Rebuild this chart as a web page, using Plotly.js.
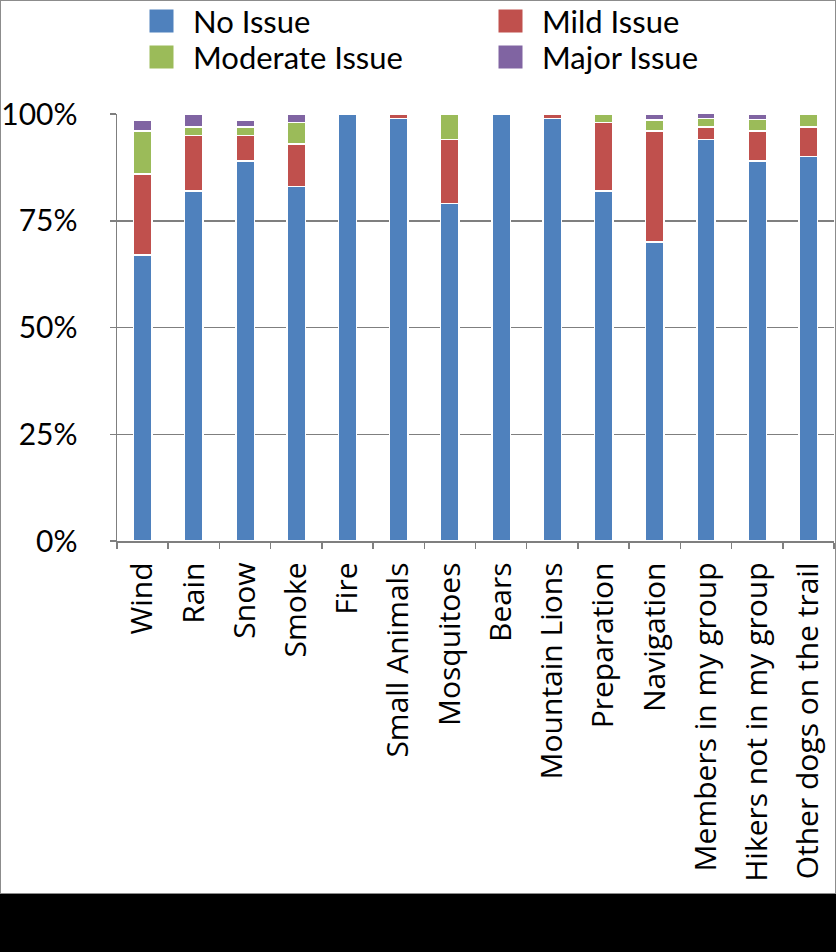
<!DOCTYPE html>
<html>
<head>
<meta charset="utf-8">
<script src="https://cdn.plot.ly/plotly-3.0.1.min.js"></script>
<style>
  html, body { margin: 0; padding: 0; background: #000; }
  #chart { width: 834px; height: 892px; border: 1px solid #8c8c8c; background: #fff; }
</style>
</head>
<body>
<div id="chart"></div>
<script>
var categories = ['Wind', 'Rain', 'Snow', 'Smoke', 'Fire', 'Small Animals', 'Mosquitoes',
    'Bears', 'Mountain Lions', 'Preparation', 'Navigation', 'Members in my group',
    'Hikers not in my group', 'Other dogs on the trail'];

var seriesNames = ['No Issue', 'Mild Issue', 'Moderate Issue', 'Major Issue'];

var noIssue       = [67, 82, 89, 83, 100, 99, 79, 100, 99, 82, 70, 94, 89, 90];
var mildIssue     = [19, 13, 6, 10, 0, 1, 15, 0, 1, 16, 26, 3, 7, 7];
var moderateIssue = [10, 2, 2, 5, 0, 0, 6, 0, 0, 2, 2.6, 2, 2.7, 3];
var majorIssue    = [2.6, 3, 1.5, 2, 0, 0, 0, 0, 0, 0, 1.4, 1.3, 1.3, 0];

var yTickVals = [0, 25, 50, 75, 100];
var yTickText = ['0%', '25%', '50%', '75%', '100%'];

var colors = ['#4f81bd', '#c0504d', '#9bbb59', '#8064a2'];
var values = [noIssue, mildIssue, moderateIssue, majorIssue];

// plot area in pixels
var W = 834, H = 892;
var mL = 116, mR = 1, mT = 113, mB = 352;
var plotW = W - mL - mR, plotH = H - mT - mB;

function px(x) { return (x - mL) / plotW; }
function py(y) { return (H - mB - y) / plotH; }

var data = values.map(function (v, i) {
    return {
        type: 'bar',
        name: seriesNames[i],
        x: categories,
        y: v,
        marker: { color: colors[i], line: { color: '#ffffff', width: 1.5 } },
        hoverinfo: 'x+y+name'
    };
});

// legend drawn by hand: 2 x 2 grid with large swatches
var legendPos = [[148, 20], [497, 20], [148, 56], [497, 56]];
var shapes = [];
var annotations = [];
legendPos.forEach(function (p, i) {
    shapes.push({
        type: 'rect', xref: 'paper', yref: 'paper',
        x0: px(p[0]), x1: px(p[0] + 25), y0: py(p[1] + 12), y1: py(p[1] - 12),
        fillcolor: colors[i], line: { color: '#ffffff', width: 1 }
    });
    annotations.push({
        xref: 'paper', yref: 'paper', x: px(p[0] + 42), y: py(p[1]),
        xanchor: 'left', yanchor: 'middle', showarrow: false,
        text: seriesNames[i],
        font: { family: 'Lato, sans-serif', size: 31, color: '#000' }
    });
});

var layout = {
    width: W, height: H,
    barmode: 'stack',
    bargap: 0.64,
    showlegend: false,
    paper_bgcolor: '#ffffff',
    plot_bgcolor: '#ffffff',
    margin: { l: mL, r: mR, t: mT, b: mB, pad: 0 },
    xaxis: {
        type: 'category',
        tickangle: -90,
        tickson: 'boundaries',
        ticks: 'outside', ticklen: 6, tickcolor: '#7f7f7f', tickwidth: 1.5,
        ticklabelstandoff: 8,
        showline: true, linecolor: '#7f7f7f', linewidth: 1.5,
        showgrid: false,
        tickfont: { family: 'Open Sans, sans-serif', size: 30, color: '#000' }
    },
    yaxis: {
        range: [0, 100],
        tickmode: 'array',
        tickvals: yTickVals,
        ticktext: yTickText,
        ticks: 'outside', ticklen: 6, tickcolor: '#7f7f7f', tickwidth: 1.5,
        ticklabelstandoff: 26,
        showline: true, linecolor: '#7f7f7f', linewidth: 1.5,
        showgrid: true, gridcolor: '#7f7f7f', gridwidth: 1.5,
        zeroline: false,
        tickfont: { family: 'Lato, sans-serif', size: 30, color: '#000' }
    },
    shapes: shapes,
    annotations: annotations
};

Plotly.newPlot('chart', data, layout, { displayModeBar: false, staticPlot: true });
</script>
</body>
</html>
